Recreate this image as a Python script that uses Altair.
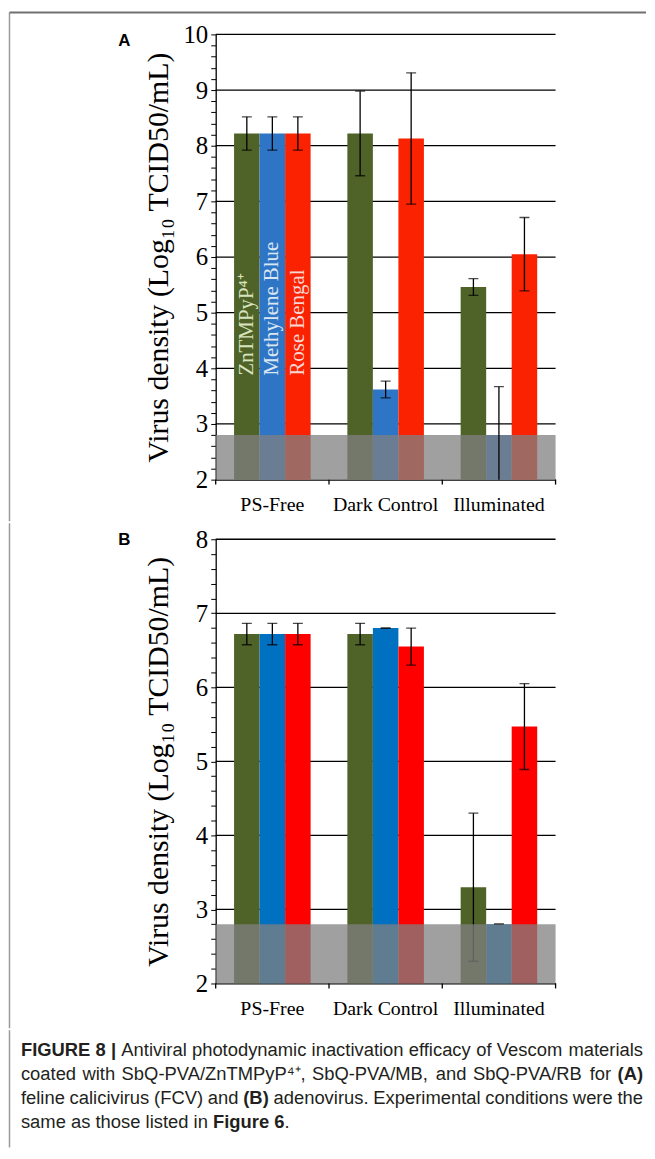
import altair as alt
import pandas as pd

categories = ["PS-Free", "Dark Control", "Illuminated"]
series = ["ZnTMPyP⁴⁺", "Methylene Blue", "Rose Bengal"]

# Panel A (feline calicivirus)
a_zn = [8.22, 8.22, 5.46]
a_mb = [8.22, 3.62, 2.80]
a_rb = [8.22, 8.13, 6.05]
a_zn_err = [0.30, 0.76, 0.15]
a_mb_err = [0.30, 0.15, 0.87]
a_rb_err = [0.30, 1.18, 0.66]

# Panel B (adenovirus)
b_zn = [6.72, 6.72, 3.30]
b_mb = [6.72, 6.80, 2.80]
b_rb = [6.72, 6.55, 5.47]
b_zn_err = [0.145, 0.145, 1.00]
b_mb_err = [0.145, 0.0, 0.0]
b_rb_err = [0.145, 0.25, 0.58]

detection_band = [2.0, 2.8]
a_domain = [2, 10]
b_domain = [2, 8]
series_label_y = 3.87

y_title = "Virus density (Log₁₀ TCID50/mL)"

caption_lines = [
    [("FIGURE 8 |", True), ("Antiviral photodynamic inactivation efficacy of Vescom materials", False)],
    [("coated with SbQ-PVA/ZnTMPyP⁴⁺, SbQ-PVA/MB, and SbQ-PVA/RB for", False), ("(A)", True)],
    [("feline calicivirus (FCV) and", False), ("(B)", True), ("adenovirus. Experimental conditions were the", False)],
    [("same as those listed in", False), ("Figure 6", True), (".", False)],
]
caption_justified = [True, True, True, False]

# ---- styles / layout ----
SERIF = "Liberation Serif"
SANS = "Liberation Sans"
colors_a = ["#4f6228", "#2e75c6", "#fa2200"]
colors_b = ["#4f6228", "#0070c0", "#ff0000"]
label_colors = ["#d7e4bd", "#dce6f2", "#f9d6d2"]
FRAME = "#9a9a9a"
FRAME_TOP = "#707070"

W = 342
PLOT_LEFT = 215
CAPTION_TOP = 1034
CAPTION_H = 118
CAP_SIZE = 18.5
CAP_LEFT = 19
CAP_RIGHT = 645
CAP_Y = [1054, 1078, 1102, 1126]

NO_VIEW = alt.ViewBackground(stroke="transparent", strokeWidth=0, strokeOpacity=0)

# approximate Arial / Liberation Sans advance widths (per em) for caption layout
_REG = {" ": .278, "(": .333, ")": .333, ",": .278, "-": .333, ".": .278, "/": .278, "|": .26,
        "A": .667, "B": .667, "C": .722, "E": .667, "F": .611, "M": .833, "P": .667, "Q": .778,
        "R": .722, "S": .667, "T": .611, "V": .667, "Z": .611, "a": .556, "b": .556, "c": .5,
        "d": .556, "e": .556, "f": .278, "h": .556, "i": .222, "l": .222, "m": .833, "n": .556,
        "o": .556, "p": .556, "r": .333, "s": .5, "t": .278, "u": .556, "v": .5, "w": .722,
        "x": .5, "y": .5, "⁴": .333, "⁺": .333}
_BOLD = {" ": .278, "(": .333, ")": .333, "|": .28, "A": .722, "B": .722, "E": .667, "F": .611,
         "G": .778, "I": .278, "R": .722, "U": .722, "e": .556, "g": .611, "i": .278, "r": .389,
         "u": .611}


def text_width(t, bold):
    table = _BOLD if bold else _REG
    return sum(table.get(ch, .556) for ch in t) * CAP_SIZE


def make_df(vals, errs):
    rows = []
    for s, vl, el in zip(series, vals, errs):
        for c, v, e in zip(categories, vl, el):
            rows.append({"cat": c, "ser": s, "value": v, "lo": v - e, "hi": v + e})
    return pd.DataFrame(rows)


def panel(df, domain, colors, letter, H, title_pad, with_labels, err_over_band,
          letter_y, frame_top, frame_bottom, top_line):
    ticks = [round(domain[0] + 0.2 * i, 1) for i in range(int((domain[1] - domain[0]) * 5) + 1)]
    yscale = alt.Scale(domain=domain, nice=False, zero=False)
    yaxis = alt.Axis(
        values=ticks,
        labelExpr="abs(datum.value - round(datum.value)) < 0.01 ? format(datum.value, 'd') : ''",
        labelOverlap=False, grid=False, tickSize=5, tickColor="black", tickWidth=1,
        domainColor="black", domainWidth=1.3, labelFont=SERIF, labelFontSize=25,
        labelColor="black", labelPadding=3, titleFont=SERIF, titleFontSize=30,
        titleFontWeight="normal", titleColor="black", titlePadding=title_pad,
    )

    def Y(f):
        return alt.Y(f + ":Q", scale=yscale, axis=yaxis, title=y_title)

    X = alt.X("cat:N", sort=categories, scale=alt.Scale(paddingInner=0, paddingOuter=0),
              axis=alt.Axis(title=None, ticks=False, labelAngle=0, labelFont=SERIF,
                            labelFontSize=20, labelColor="black", labelPadding=15,
                            domainColor="black", domainWidth=1.3))
    XO = alt.XOffset("ser:N", sort=series, scale=alt.Scale(paddingInner=0, paddingOuter=0.72))

    grid_df = pd.DataFrame({"g": list(range(domain[0] + 1, domain[1] + 1))})
    grid = alt.Chart(grid_df).mark_rule(color="black", strokeWidth=1.3).encode(
        y=Y("g"), x=alt.value(0), x2=alt.value(W))

    bars = alt.Chart(df).mark_bar(clip=True).encode(
        x=X, xOffset=XO, y=Y("value"), y2=alt.datum(domain[0]),
        color=alt.Color("ser:N", sort=series, scale=alt.Scale(domain=series, range=colors), legend=None))

    err_rule = alt.Chart(df).mark_rule(color="black", strokeWidth=1.3, clip=True).encode(
        x=X, xOffset=XO, y=Y("lo"), y2="hi")
    cap_hi = alt.Chart(df).mark_tick(color="black", thickness=1.3, size=10, clip=True).encode(
        x=X, xOffset=XO, y=Y("hi"))
    cap_lo = alt.Chart(df).mark_tick(color="black", thickness=1.3, size=10, clip=True).encode(
        x=X, xOffset=XO, y=Y("lo"))
    errs = [err_rule, cap_hi, cap_lo]

    band_df = pd.DataFrame({"lo": [detection_band[0]], "hi": [detection_band[1]]})
    band = alt.Chart(band_df).mark_rect(color="#808080", opacity=0.75).encode(
        x=alt.value(0), x2=alt.value(W), y=Y("lo"), y2="hi")

    tick_df = pd.DataFrame({"cat": categories})
    xticks = alt.Chart(tick_df).mark_rule(color="black", strokeWidth=1.3).encode(
        x=alt.X("cat:N", sort=categories, bandPosition=0), y=alt.value(H), y2=alt.value(H + 5))
    end_tick = alt.Chart(tick_df.head(1)).mark_rule(color="black", strokeWidth=1.3).encode(
        x=alt.value(W), y=alt.value(H), y2=alt.value(H + 5))

    letter_df = pd.DataFrame({"t": [letter]})
    letter_mark = alt.Chart(letter_df).mark_text(
        font=SANS, fontWeight="bold", fontSize=17, align="center", baseline="alphabetic",
        color="black").encode(text="t:N", x=alt.value(-92), y=alt.value(letter_y))

    frame_left = alt.Chart(letter_df).mark_rule(color=FRAME, strokeWidth=1.5).encode(
        x=alt.value(-207.5), y=alt.value(frame_top), y2=alt.value(frame_bottom))

    layers = [grid, bars]
    if with_labels:
        lab_df = pd.DataFrame({"cat": [categories[0]] * 3, "ser": series,
                               "ly": [series_label_y] * 3, "lc": label_colors})
        labels = alt.Chart(lab_df).mark_text(
            angle=270, align="left", baseline="middle", font=SERIF, fontSize=21).encode(
            x=X, xOffset=XO, y=Y("ly"), text="ser:N", color=alt.Color("lc:N", scale=None))
        layers.append(labels)
    if err_over_band:
        layers += [band] + errs
    else:
        layers += errs + [band]
    layers += [xticks, end_tick, letter_mark, frame_left]
    if top_line:
        frame_top_mark = alt.Chart(letter_df).mark_rule(color=FRAME_TOP, strokeWidth=2).encode(
            x=alt.value(-207.5), x2=alt.value(433), y=alt.value(frame_top))
        layers.append(frame_top_mark)
    return alt.layer(*layers).properties(width=W, height=H, view=NO_VIEW)


df_a = make_df([a_zn, a_mb, a_rb], [a_zn_err, a_mb_err, a_rb_err])
df_b = make_df([b_zn, b_mb, b_rb], [b_zn_err, b_mb_err, b_rb_err])

HA, HB = 448, 447
pA = panel(df_a, a_domain, colors_a, "A", HA, 10, True, True, 12, -22, HA + 42, True)
pB = panel(df_b, b_domain, colors_b, "B", HB, 22, False, False, 6, -16, HB + 45, False)

# ---- caption: words laid out left to right, justified like the journal caption ----
space = _REG[" "] * CAP_SIZE
rows = []
for li, segs in enumerate(caption_lines):
    words = []  # (text, bold, attach_to_previous)
    for si, (txt, bold) in enumerate(segs):
        for wi, w in enumerate(txt.split(" ")):
            attach = (txt == "." and wi == 0)
            words.append((w, bold, attach))
    natural = sum(text_width(w, b) for w, b, _ in words)
    gaps = sum(1 for i, (_, _, a) in enumerate(words) if i > 0 and not a)
    natural += gaps * space
    extra = ((CAP_RIGHT - CAP_LEFT) - natural) / gaps if (caption_justified[li] and gaps) else 0
    x = CAP_LEFT
    for i, (w, b, a) in enumerate(words):
        if i > 0 and not a:
            x += space + extra
        rows.append({"t": w, "bold": b, "px": x - PLOT_LEFT, "py": CAP_Y[li] - CAPTION_TOP})
        x += text_width(w, b)
cap_df = pd.DataFrame(rows)


def cap_layer(bold):
    sub = cap_df[cap_df["bold"] == bold][["t", "px", "py"]]
    return alt.Chart(sub).mark_text(
        font=SANS, fontSize=CAP_SIZE, fontWeight="bold" if bold else "normal", align="left",
        baseline="middle", color="#231f20").encode(
        x=alt.X("px:Q", scale=None, axis=None), y=alt.Y("py:Q", scale=None, axis=None), text="t:N")


cap_frame = alt.Chart(pd.DataFrame({"t": [""]})).mark_rule(color=FRAME, strokeWidth=1.5).encode(
    x=alt.value(-207.5), y=alt.value(0), y2=alt.value(CAPTION_H))
caption = alt.layer(cap_frame, cap_layer(False), cap_layer(True)).properties(
    width=W, height=CAPTION_H, view=NO_VIEW)

chart = alt.ConcatChart(concat=[pA, pB, caption], columns=1, spacing=0, align="none").resolve_scale(
    color="independent", x="independent", y="independent", xOffset="independent"
).properties(padding={"left": 0, "top": 0, "right": 0, "bottom": 0}).configure_view(
    stroke="transparent", strokeWidth=0).configure(background="white")

chart.save("out.html", embed_options={"renderer": "svg", "actions": False})
